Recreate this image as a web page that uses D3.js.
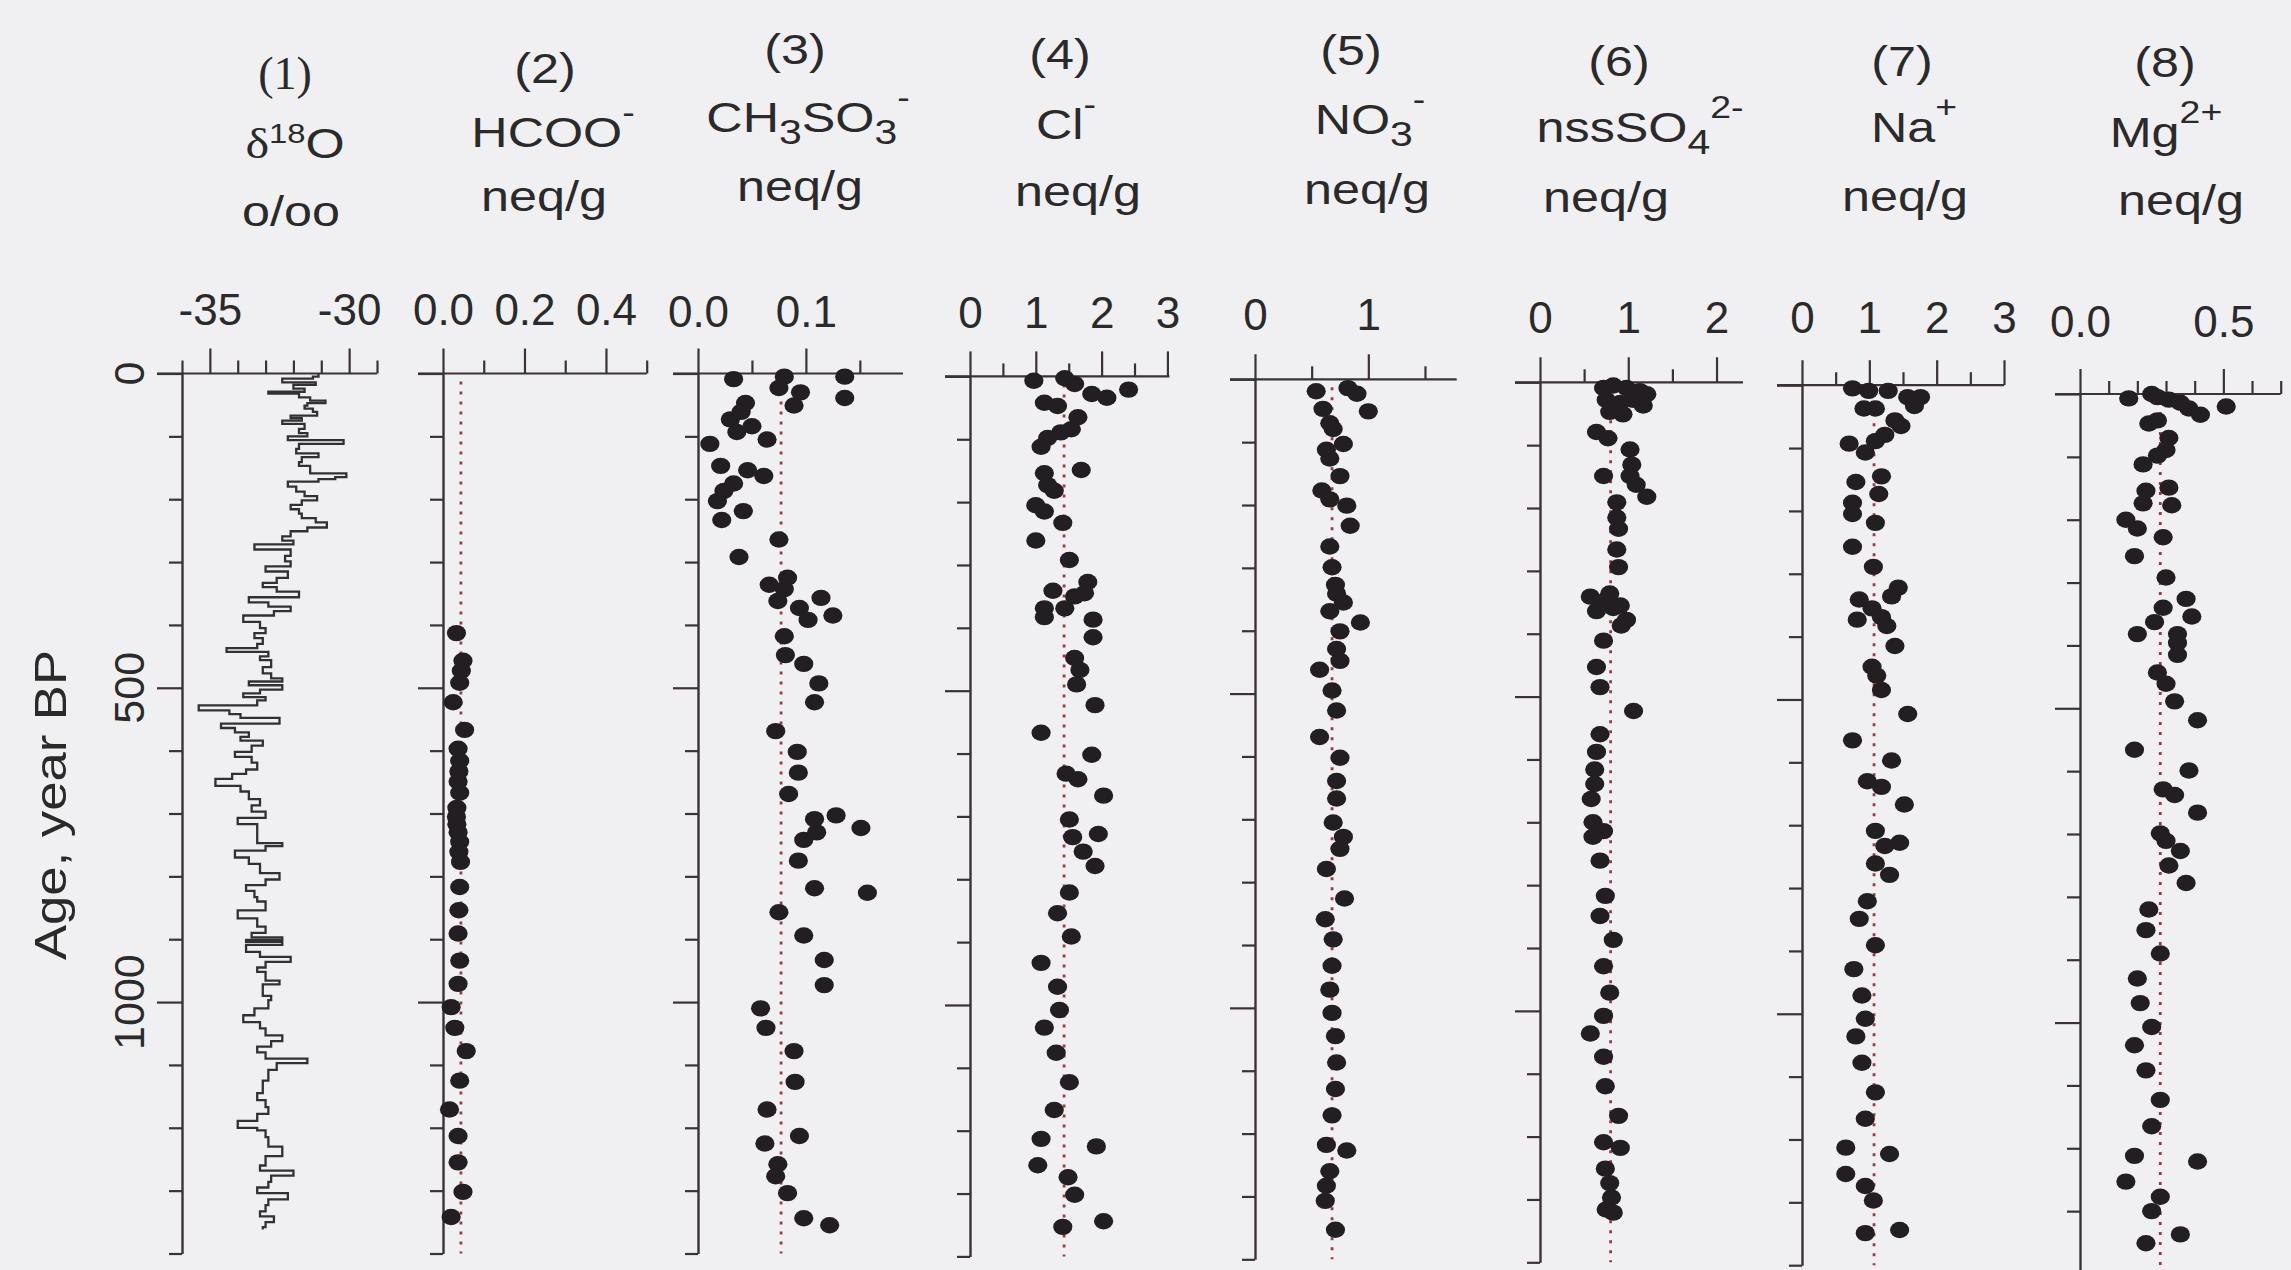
<!DOCTYPE html>
<html>
<head>
<meta charset="utf-8">
<title>Ice core profiles</title>
<script src="https://cdn.jsdelivr.net/npm/d3@7"></script>
<style>
  body { margin: 0; background: #f0f0f2; }
  svg { display: block; }
  text { font-family: "Liberation Sans", Arial, sans-serif; fill: #2a2a2a; }
</style>
</head>
<body>
<svg width="2291" height="1270"></svg>
<script>
// ---- data: [age (year BP), value] ----
const d18o = [
  [0,-31.1],[5,-31.3],[8,-32.4],[14,-31.2],[18,-32.0],[24,-31.6],[29,-32.9],[32,-31.8],[38,-31.4],[43,-30.85],
  [47,-31.5],[51,-31.6],[56,-31.3],[61,-31.15],[67,-32.1],[71,-31.7],[75,-32.4],[80,-31.6],[88,-31.8],[95,-31.5],
  [100,-32.2],[106,-30.2],[112,-31.8],[120,-31.9],[127,-31.1],[133,-31.7],[141,-31.8],[147,-31.4],[159,-30.1],[165,-30.5],
  [168,-31.1],[172,-32.2],[180,-31.9],[188,-31.6],[195,-31.15],[202,-31.7],[209,-32.1],[216,-31.8],[223,-31.7],[230,-31.2],
  [237,-30.8],[245,-31.5],[251,-32.1],[259,-32.4],[266,-32.0],[272,-33.4],[280,-32.1],[290,-32.3],[299,-32.1],[307,-33.0],
  [315,-32.2],[325,-32.6],[333,-33.1],[340,-32.6],[347,-31.8],[356,-33.6],[364,-32.9],[371,-32.1],[378,-32.7],[385,-33.8],
  [395,-33.2],[405,-33.0],[413,-33.4],[421,-33.1],[430,-33.3],[437,-34.4],[443,-32.9],[450,-33.2],[456,-32.8],[467,-33.1],
  [477,-32.8],[485,-32.4],[490,-33.6],[496,-32.4],[503,-33.2],[509,-33.8],[515,-33.0],[520,-33.3],[528,-35.4],[536,-34.3],
  [542,-33.9],[548,-32.5],[557,-34.6],[564,-34.1],[571,-33.6],[578,-33.9],[584,-33.1],[592,-33.5],[602,-34.1],[610,-33.5],
  [619,-33.3],[630,-33.7],[637,-34.2],[645,-34.8],[656,-33.9],[665,-33.6],[677,-33.2],[687,-33.5],[697,-33.0],[707,-34.0],
  [717,-33.3],[747,-32.4],[752,-33.0],[759,-34.1],[770,-33.6],[780,-33.2],[795,-32.5],[805,-33.0],[814,-33.7],[823,-33.4],
  [833,-33.3],[840,-33.0],[854,-34.0],[867,-33.3],[880,-33.0],[890,-33.5],[897,-32.4],[901,-33.7],[904,-32.4],[909,-33.7],
  [920,-33.2],[928,-32.1],[936,-33.0],[945,-33.3],[952,-33.0],[966,-32.5],[972,-33.1],[990,-32.8],[997,-32.9],[1010,-33.4],
  [1021,-33.8],[1032,-33.2],[1042,-33.0],[1053,-32.4],[1062,-32.8],[1071,-33.3],[1080,-33.0],[1090,-31.5],[1097,-32.6],[1108,-32.9],
  [1125,-33.1],[1145,-33.3],[1156,-33.0],[1167,-32.9],[1178,-33.3],[1189,-34.0],[1200,-33.3],[1204,-33.0],[1215,-32.9],[1230,-32.4],
  [1245,-33.0],[1260,-33.2],[1268,-32.0],[1276,-32.8],[1286,-32.9],[1295,-33.3],[1304,-32.2],[1314,-32.9],[1323,-33.0],[1333,-33.2],
  [1341,-32.7],[1350,-33.0],[1358,-33.1]
];
const d18oEndAge = 1362;

const hcoo = [
  [413,0.033],[457,0.049],[473,0.045],[492,0.041],[523,0.025],[567,0.053],[597,0.037],[616,0.041],[633,0.039],[649,0.037],
  [667,0.041],[691,0.034],[705,0.033],[717,0.034],[730,0.037],[745,0.041],[761,0.039],[777,0.043],[817,0.041],[854,0.039],
  [891,0.037],[934,0.041],[971,0.037],[1008,0.020],[1041,0.029],[1078,0.057],[1125,0.041],[1171,0.016],[1213,0.037],[1255,0.037],
  [1302,0.049],[1342,0.020]
];

const msa = [
  [9,0.033],[5,0.080],[23,0.075],[30,0.095],[51,0.089],[5,0.136],[39,0.136],[47,0.044],[61,0.040],[73,0.030],
  [84,0.050],[93,0.036],[105,0.064],[112,0.011],[147,0.021],[154,0.046],[163,0.061],[175,0.033],[187,0.024],[203,0.018],
  [219,0.042],[233,0.022],[264,0.075],[292,0.038],[325,0.083],[336,0.066],[343,0.080],[362,0.074],[357,0.114],[373,0.094],
  [385,0.125],[392,0.102],[418,0.080],[448,0.081],[462,0.098],[493,0.112],[523,0.108],[569,0.072],[602,0.092],[635,0.093],
  [669,0.084],[709,0.108],[703,0.128],[723,0.151],[730,0.110],[742,0.098],[775,0.093],[819,0.108],[826,0.157],[857,0.075],
  [894,0.098],[933,0.117],[973,0.117],[1010,0.058],[1041,0.063],[1078,0.089],[1127,0.090],[1171,0.064],[1225,0.062],[1213,0.094],
  [1258,0.074],[1277,0.072],[1304,0.083],[1344,0.098],[1355,0.122]
];

const cl = [
  [7,0.97],[3,1.44],[12,1.59],[28,1.85],[34,2.08],[21,2.41],[42,1.13],[47,1.33],[65,1.64],[84,1.54],
  [98,1.18],[112,1.08],[89,1.38],[149,1.69],[154,1.13],[173,1.18],[182,1.28],[205,1.00],[215,1.13],[233,1.41],
  [261,1.00],[292,1.51],[327,1.79],[341,1.26],[350,1.59],[369,1.13],[369,1.44],[383,1.13],[387,1.87],[345,1.74],
  [415,1.87],[448,1.59],[467,1.67],[490,1.62],[523,1.90],[567,1.08],[602,1.85],[632,1.46],[641,1.64],[667,2.03],
  [705,1.51],[733,1.56],[728,1.95],[756,1.72],[779,1.90],[821,1.51],[854,1.33],[891,1.54],[933,1.08],[971,1.33],
  [1008,1.36],[1036,1.13],[1076,1.31],[1123,1.51],[1167,1.28],[1213,1.08],[1225,1.92],[1255,1.03],[1274,1.49],[1302,1.59],
  [1353,1.41],[1344,2.03]
];

const no3 = [
  [19,0.54],[14,0.82],[23,0.90],[51,1.00],[47,0.60],[70,0.66],[79,0.69],[103,0.78],[112,0.63],[126,0.66],
  [154,0.75],[177,0.59],[191,0.66],[201,0.81],[233,0.84],[266,0.66],[299,0.68],[327,0.71],[341,0.72],[355,0.78],
  [369,0.66],[387,0.93],[401,0.75],[429,0.72],[448,0.75],[462,0.57],[495,0.68],[527,0.72],[569,0.57],[602,0.75],
  [639,0.72],[667,0.72],[705,0.69],[728,0.78],[747,0.75],[779,0.63],[826,0.79],[859,0.62],[891,0.69],[933,0.68],
  [971,0.66],[1008,0.68],[1045,0.71],[1087,0.72],[1129,0.71],[1171,0.68],[1218,0.63],[1227,0.81],[1260,0.66],[1283,0.63],
  [1307,0.62],[1353,0.71]
];

const nssSO4 = [
  [9,0.72],[5,0.83],[9,0.98],[14,1.13],[19,1.21],[28,0.75],[33,0.91],[28,1.06],[37,1.17],[47,0.79],
  [51,0.94],[79,0.64],[89,0.77],[107,1.02],[131,1.04],[149,0.72],[149,1.02],[163,1.09],[182,1.21],[191,0.87],
  [215,0.87],[233,0.89],[266,0.87],[294,0.89],[341,0.57],[350,0.68],[336,0.79],[359,0.83],[355,0.91],[364,0.64],
  [378,0.98],[387,0.92],[411,0.72],[453,0.64],[485,0.68],[523,1.06],[560,0.68],[588,0.64],[616,0.62],[639,0.62],
  [663,0.58],[700,0.60],[714,0.72],[723,0.60],[761,0.68],[817,0.74],[849,0.68],[887,0.83],[929,0.72],[971,0.79],
  [1008,0.72],[1036,0.57],[1073,0.72],[1120,0.74],[1167,0.89],[1209,0.72],[1218,0.91],[1251,0.74],[1274,0.79],[1297,0.81],
  [1316,0.75],[1321,0.83]
];

const na = [
  [5,0.75],[9,0.99],[9,1.28],[19,1.57],[19,1.76],[33,1.67],[37,0.92],[37,1.09],[56,1.38],[65,1.47],
  [79,1.23],[89,1.09],[93,0.70],[107,0.94],[145,1.18],[154,0.80],[173,1.14],[187,0.75],[205,0.75],[219,1.09],
  [257,0.75],[289,1.06],[322,1.43],[336,1.33],[341,0.85],[355,1.04],[369,1.18],[373,0.82],[383,1.26],[415,1.38],
  [448,1.04],[462,1.11],[485,1.18],[523,1.57],[565,0.75],[597,1.33],[630,0.97],[639,1.18],[667,1.52],[709,1.09],
  [733,1.23],[728,1.45],[761,1.09],[779,1.30],[821,0.97],[849,0.85],[891,1.09],[929,0.77],[971,0.89],[1008,0.94],
  [1036,0.80],[1078,0.89],[1125,1.09],[1167,0.94],[1213,0.65],[1223,1.30],[1255,0.65],[1274,0.94],[1297,1.06],[1344,1.45],
  [1349,0.94]
];

const mg = [
  [7,0.17],[0,0.25],[5,0.27],[9,0.31],[14,0.35],[23,0.38],[33,0.42],[20,0.51],[47,0.24],[42,0.27],
  [70,0.31],[89,0.30],[98,0.27],[112,0.22],[154,0.23],[149,0.31],[174,0.22],[177,0.32],[200,0.16],[214,0.20],
  [258,0.19],[228,0.29],[292,0.30],[326,0.37],[354,0.39],[340,0.29],[363,0.26],[382,0.20],[382,0.34],[396,0.34],
  [415,0.34],[443,0.27],[461,0.30],[489,0.33],[519,0.41],[566,0.19],[599,0.38],[629,0.29],[638,0.33],[666,0.41],
  [699,0.28],[711,0.30],[727,0.35],[750,0.31],[778,0.37],[820,0.24],[853,0.23],[890,0.28],[930,0.20],[969,0.21],
  [1007,0.25],[1036,0.19],[1076,0.23],[1123,0.28],[1165,0.25],[1212,0.19],[1221,0.41],[1253,0.16],[1277,0.28],[1300,0.25],
  [1337,0.35],[1351,0.23]
];

const series = [d18o, hcoo, msa, cl, no3, nssSO4, na, mg];
const refValues = [null, 0.044, 0.077, 1.43, 0.68, 0.80, 1.07, 0.28];

// axes
const xDomains = [[-36, -29], [0, 0.5], [0, 0.19], [0, 3.03], [0, 1.78], [0, 2.3], [0, 3], [0, 0.7]];
const majorTicks = [[-35, -30], [0, 0.2, 0.4], [0, 0.1], [0, 1, 2, 3], [0, 1], [0, 1, 2], [0, 1, 2, 3], [0, 0.5]];
const minorTicks = [[-36, -34, -33, -32, -31, -29], [0.1, 0.3, 0.5], [0.05, 0.15], [0.5, 1.5, 2.5], [0.5, 1.5], [0.5, 1.5], [0.5, 1.5, 2.5], [0.1, 0.2, 0.3, 0.4, 0.6, 0.7]];
const tickLabels = [["-35", "-30"], ["0.0", "0.2", "0.4"], ["0.0", "0.1"], ["0", "1", "2", "3"], ["0", "1"], ["0", "1", "2"], ["0", "1", "2", "3"], ["0.0", "0.5"]];
const ageDomain = [0, 1400];
const ageMajor = [0, 500, 1000];
const ageMinor = [100, 200, 300, 400, 600, 700, 800, 900, 1100, 1200, 1300, 1400];
const ageLabels = ["0", "500", "1000"];
const ageTitle = "Age, year BP";

// titles
const panelNums = ["(1)", "(2)", "(3)", "(4)", "(5)", "(6)", "(7)", "(8)"];
const panelUnits = ["o/oo", "neq/g", "neq/g", "neq/g", "neq/g", "neq/g", "neq/g", "neq/g"];
const formulas = [
  [["δ", "serif"], ["18", "supLow"], ["O", ""]],
  [["HCOO", ""], ["-", "sup"]],
  [["CH", ""], ["3", "sub"], ["SO", ""], ["3", "sub"], ["-", "sup"]],
  [["Cl", ""], ["-", "sup"]],
  [["NO", ""], ["3", "sub"], ["-", "sup"]],
  [["nssSO", ""], ["4", "sub"], ["2-", "sup"]],
  [["Na", ""], ["+", "sup"]],
  [["Mg", ""], ["2+", "sup"]]
];

// ---- layout ----
const panelRange = [[182, 377], [443, 646.7], [698, 903], [970, 1169.4], [1255, 1456.7], [1540, 1743], [1802, 2004], [2080, 2280.7]];
const panelTop = [373.5, 373.5, 373.5, 376.4, 379.3, 382.3, 385.2, 394];
const labelBase = [325, 325, 327, 328, 330, 333, 333, 337];
const titleX = [[285, 295, 291], [545, 553, 544], [795, 808, 800], [1060, 1066, 1078], [1351, 1370, 1367], [1619, 1640, 1606], [1902, 1914, 1905], [2165, 2166, 2181]];
const titleY = [[89, 158, 226], [83, 147, 211], [64, 132, 201], [69, 139, 206], [65, 134, 204], [76, 142, 212], [76, 142, 211], [77, 147, 215]];
const textStretch = 1.17;
const plotHeight = 880;
const majorLen = 25, minorLen = 13;
const axisColor = "#3b3236";
const serif = "'Liberation Serif', 'Times New Roman', serif";

const svg = d3.select("svg");
svg.append("rect").attr("width", 2291).attr("height", 1270).attr("fill", "#f0f0f2");

function drawFormula(text, parts) {
  let shift = 0;
  parts.forEach(([t, kind]) => {
    const target = kind === "sub" ? 12 : kind === "sup" ? -24 : kind === "supLow" ? -15 : 0;
    const ts = text.append("tspan").attr("dy", target - shift).text(t);
    if (kind === "sub") ts.attr("font-size", 35);
    if (kind === "sup") ts.attr("font-size", 32);
    if (kind === "supLow") ts.attr("font-size", 28);
    if (kind === "serif") ts.style("font-family", serif);
    shift = target;
  });
}

function titleText(g, x, y, stretch) {
  return g.append("text")
    .attr("transform", `translate(${x},${y}) scale(${stretch},1)`)
    .attr("text-anchor", "middle").attr("font-size", 43);
}

series.forEach((data, i) => {
  const top = panelTop[i];
  const x = d3.scaleLinear().domain(xDomains[i]).range(panelRange[i]);
  const y = d3.scaleLinear().domain(ageDomain).range([top, top + plotHeight]);
  const g = svg.append("g").attr("class", "panel");

  // titles
  const t1 = titleText(g, titleX[i][0], titleY[i][0], i === 0 ? 1 : textStretch).text(panelNums[i]);
  if (i === 0) t1.attr("font-size", 46).style("font-family", serif);
  drawFormula(titleText(g, titleX[i][1], titleY[i][1], textStretch), formulas[i]);
  titleText(g, titleX[i][2], titleY[i][2], textStretch).text(panelUnits[i]);

  // top axis
  const x0 = x(xDomains[i][0]);
  g.append("line").attr("x1", x0 - majorLen).attr("x2", x(xDomains[i][1]))
    .attr("y1", top).attr("y2", top).attr("stroke", axisColor).attr("stroke-width", 2.2);
  g.append("g").attr("transform", `translate(0,${top})`)
    .call(d3.axisTop(x).tickValues(majorTicks[i]).tickSize(majorLen)
      .tickPadding(top - labelBase[i] - majorLen).tickFormat((d, k) => tickLabels[i][k]))
    .call(a => a.select(".domain").remove())
    .call(a => a.selectAll("line").attr("stroke", axisColor).attr("stroke-width", 2.2))
    .call(a => a.selectAll("text").attr("font-size", 44).attr("font-family", "'Liberation Sans', Arial, sans-serif").attr("fill", "#2a2a2a"));
  g.append("g").attr("transform", `translate(0,${top})`)
    .call(d3.axisTop(x).tickValues(minorTicks[i]).tickSize(minorLen).tickFormat(""))
    .call(a => a.select(".domain").remove())
    .call(a => a.selectAll("line").attr("stroke", axisColor).attr("stroke-width", 2.2));

  // left (age) axis
  g.append("g").attr("transform", `translate(${x0},0)`)
    .call(d3.axisLeft(y).tickValues(ageMajor).tickSize(majorLen).tickSizeOuter(0).tickFormat(""))
    .call(a => a.select(".domain").attr("stroke", axisColor).attr("stroke-width", 2.4))
    .call(a => a.selectAll("line").attr("stroke", axisColor).attr("stroke-width", 2.2));
  g.append("g").attr("transform", `translate(${x0},0)`)
    .call(d3.axisLeft(y).tickValues(ageMinor).tickSize(minorLen).tickFormat(""))
    .call(a => a.select(".domain").remove())
    .call(a => a.selectAll("line").attr("stroke", axisColor).attr("stroke-width", 2.2));

  if (i === 0) {
    g.selectAll(".agelabel").data(ageMajor).join("text")
      .attr("class", "agelabel")
      .attr("transform", d => `translate(144,${y(d)}) rotate(-90)`)
      .attr("text-anchor", "middle").attr("font-size", 43)
      .text((d, k) => ageLabels[k]);
    g.append("text")
      .attr("transform", `translate(66,805) rotate(-90) scale(${textStretch},1)`)
      .attr("text-anchor", "middle").attr("font-size", 45).text(ageTitle);

    const pts = data.concat([[d18oEndAge, data[data.length - 1][1]]]);
    g.append("path").datum(pts)
      .attr("fill", "none").attr("stroke", "#333033").attr("stroke-width", 2.3)
      .attr("d", d3.line().x(d => x(d[1])).y(d => y(d[0])).curve(d3.curveStepBefore));
  } else {
    g.append("line")
      .attr("x1", x(refValues[i])).attr("x2", x(refValues[i]))
      .attr("y1", top + 8).attr("y2", y(1400))
      .attr("stroke", "#9c3a44").attr("stroke-width", 2.8).attr("stroke-dasharray", "3,7");
    g.selectAll("ellipse").data(data).join("ellipse")
      .attr("cx", d => x(d[1])).attr("cy", d => y(d[0]))
      .attr("rx", 9.6).attr("ry", 8.2).attr("fill", "#221e21");
  }
});
</script>
</body>
</html>
